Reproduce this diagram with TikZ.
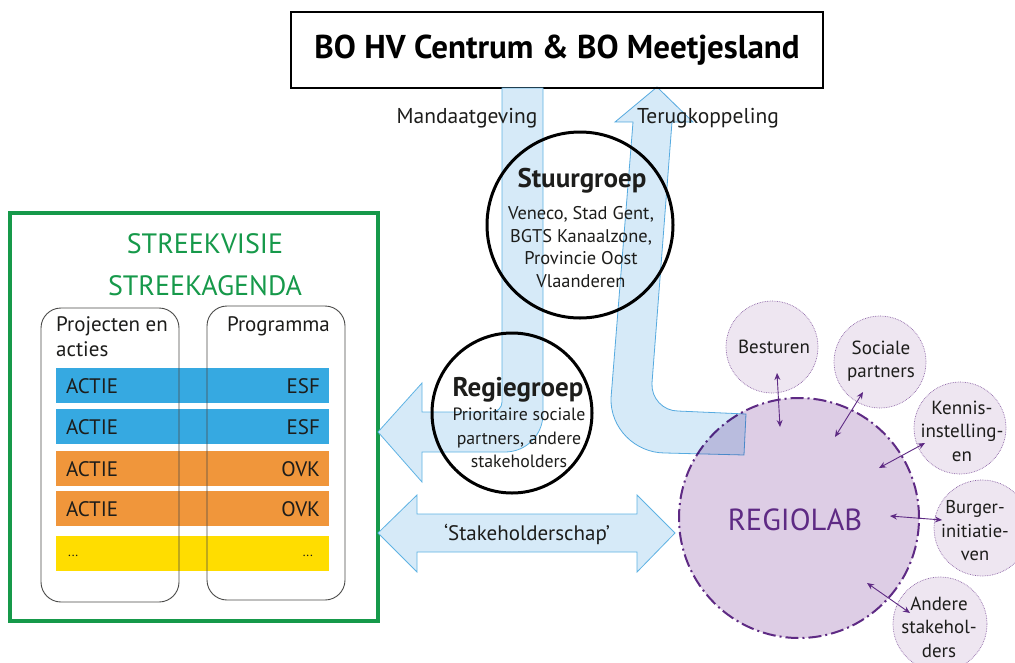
\documentclass[tikz,border=0pt]{standalone}
\usepackage{fontspec}
\setmainfont{PT Sans}
\usetikzlibrary{arrows.meta}
\definecolor{bandfill}{HTML}{D6EAF8}
\definecolor{banddraw}{HTML}{5FB3E4}
\definecolor{skgreen}{HTML}{16994A}
\definecolor{esfblue}{HTML}{36A9E1}
\definecolor{ovkorange}{HTML}{F0963B}
\definecolor{dotsyellow}{HTML}{FFDD00}
\definecolor{labfill}{HTML}{DDCDE5}
\definecolor{labdraw}{HTML}{5E2A84}
\definecolor{smallfill}{HTML}{EEE6F1}
\definecolor{smalldraw}{HTML}{8C64A6}
\definecolor{darktext}{HTML}{1D1D1B}
\tikzset{
  band/.style={fill=bandfill, draw=banddraw, line width=0.8pt},
  bar/.style={minimum width=273pt, minimum height=35pt, inner sep=0pt},
  col/.style={draw=darktext!80, line width=0.9pt, rounded corners=20pt, minimum width=138pt, minimum height=294pt},
  grp/.style={circle, draw=black, line width=3pt, inner sep=0pt},
  small/.style={circle, fill=smallfill, draw=smalldraw, densely dotted, line width=0.7pt, minimum size=92pt, inner sep=0pt},
  smalltxt/.style={align=center, font=\fontsize{19}{23.5}\selectfont, text=darktext, inner sep=0pt},
  link/.style={{Stealth[length=7pt,width=6pt]}-{Stealth[length=7pt,width=6pt]}, draw=labdraw, line width=0.9pt},
  lbl/.style={text=darktext, inner sep=0pt},
}
\begin{document}
\begin{tikzpicture}[x=1pt,y=-1pt]
\useasboundingbox (0,0) rectangle (1015,662);
\fill[white] (0,0) rectangle (1015,662);

% top box
\node[draw=black, line width=2.6pt, minimum width=532pt, minimum height=76pt, inner sep=0pt,
  font=\fontsize{33}{36}\selectfont\bfseries] (top) at (557,50) {BO HV Centrum \& BO Meetjesland};

% green box
\node[draw=skgreen, line width=3.6pt, minimum width=368pt, minimum height=408pt, inner sep=0pt] (sk) at (194,417) {};
\node[text=skgreen, inner sep=0pt, font=\fontsize{28}{30}\selectfont] (t1) at (205,244) {STREEKVISIE};
\node[text=skgreen, inner sep=0pt, font=\fontsize{28}{30}\selectfont] (t2) at (205,286) {STREEKAGENDA};

% bars
\node[bar, fill=esfblue] (b1) at (192.5,385.5) {};
\node[bar, fill=esfblue] (b2) at (192.5,426) {};
\node[bar, fill=ovkorange] (b3) at (192.5,468) {};
\node[bar, fill=ovkorange] (b4) at (192.5,508) {};
\node[bar, fill=dotsyellow] (b5) at (192.5,553.5) {};
\foreach \n/\r in {b1/ESF,b2/ESF,b3/OVK,b4/OVK}{
  \node[lbl, anchor=west, font=\fontsize{21}{24}\selectfont] (\n l) at ([xshift=10pt,yshift=-1pt]\n.west) {ACTIE};
  \node[lbl, anchor=east, font=\fontsize{21}{24}\selectfont] (\n r) at ([xshift=-9pt,yshift=-1pt]\n.east) {\r};
}
\node[lbl, anchor=west, font=\fontsize{13}{14}\selectfont] (b5l) at (68,556) {...};
\node[lbl, anchor=east, font=\fontsize{13}{14}\selectfont] (b5r) at (313,556) {...};

% columns
\node[col] (colL) at (110,455) {};
\node[col] (colR) at (276,453) {};
\node[lbl, anchor=north west, align=left, font=\fontsize{21}{25}\selectfont] (projl) at (56,316) {Projecten en\\acties};
\node[lbl, anchor=north east, font=\fontsize{21}{25}\selectfont] (progl) at (330,316) {Programma};

% Regiolab (fill first)
\node[circle, fill=labfill, draw=labdraw, line width=2pt, dash pattern=on 13pt off 4pt on 2pt off 4pt, minimum size=240pt, inner sep=0pt] (lab) at (799,518) {};

% bands
\path[band] (502,88) -- (502,402) .. controls (502,407.5) and (497.5,412) .. (492,412)
  -- (422,412) -- (422,383) -- (378,432) -- (422,482) -- (422,452)
  -- (505,452) .. controls (526,452) and (543,435) .. (543,414) -- (543,88) -- cycle;
\path[band, blend mode=multiply] (657,87) -- (693,122) -- (672,122)
  -- (652,383) .. controls (651,398) and (663,411) .. (678,411) -- (746,414)
  -- (744,455) -- (665,453) .. controls (635,453) and (610,428) .. (611,398)
  -- (633,122) -- (615,122) -- cycle;
\path[band] (378,533) -- (417,495) -- (417,514) -- (637,514) -- (637,495) -- (675,533) -- (637,572) -- (637,552) -- (417,552) -- (417,572) -- cycle;

\node[lbl, font=\fontsize{21.5}{24}\selectfont] (mand) at (467,118) {Mandaatgeving};
\node[lbl, font=\fontsize{21.5}{24}\selectfont] (terug) at (708,118) {Terugkoppeling};
\node[lbl, font=\fontsize{21}{24}\selectfont] (stake) at (527,534) {`Stakeholderschap'};

% Stuurgroep
\node[grp, minimum size=186pt] (stuur) at (580,225) {};
\node[lbl, font=\fontsize{27}{30}\selectfont\bfseries] (stuurt) at (582,181) {Stuurgroep};
\node[lbl, align=center, font=\fontsize{18.4}{22.7}\selectfont] (stuurb) at (581,247) {Veneco, Stad Gent,\\BGTS Kanaalzone,\\Provincie Oost\\Vlaanderen};

% Regiegroep
\node[grp, minimum size=160pt] (regie) at (512,413) {};
\node[lbl, font=\fontsize{27}{30}\selectfont\bfseries] (regiet) at (518,390) {Regiegroep};
\node[lbl, align=center, font=\fontsize{17.8}{23.5}\selectfont] (regieb) at (519,438) {Prioritaire sociale\\partners, andere\\stakeholders};

% Regiolab label
\node[text=labdraw, inner sep=0pt, font=\fontsize{30.5}{34}\selectfont] (labt) at (795,520) {REGIOLAB};

% small circles
\node[small] (bes) at (772,347) {};
\node[smalltxt] (best) at (774,347) {Besturen};
\node[small] (soc) at (880,362) {};
\node[smalltxt] (soct) at (881,361) {Sociale\\partners};
\node[small] (ken) at (960,428) {};
\node[smalltxt] (kent) at (962,431) {Kennis-\\instelling-\\en};
\node[small, minimum size=96pt] (bur) at (982,528) {};
\node[smalltxt, font=\fontsize{18.5}{23.5}\selectfont] (burt) at (975,531) {Burger-\\initiatie-\\ven};
\node[small, minimum size=94pt] (and) at (940,624) {};
\node[smalltxt] (andt) at (939,627) {Andere\\stakehol-\\ders};

% links
\coordinate (c1a) at (777,373); \coordinate (c1b) at (780,427);
\coordinate (c2a) at (863,392); \coordinate (c2b) at (835,437);
\coordinate (c3a) at (925,443); \coordinate (c3b) at (879,468);
\coordinate (c4a) at (942,520); \coordinate (c4b) at (890,516);
\coordinate (c5a) at (910,613); \coordinate (c5b) at (867,583);
\draw[link] (c1a) -- (c1b);
\draw[link] (c2a) -- (c2b);
\draw[link] (c3a) -- (c3b);
\draw[link] (c4a) -- (c4b);
\draw[link] (c5a) -- (c5b);
\end{tikzpicture}
\end{document}
